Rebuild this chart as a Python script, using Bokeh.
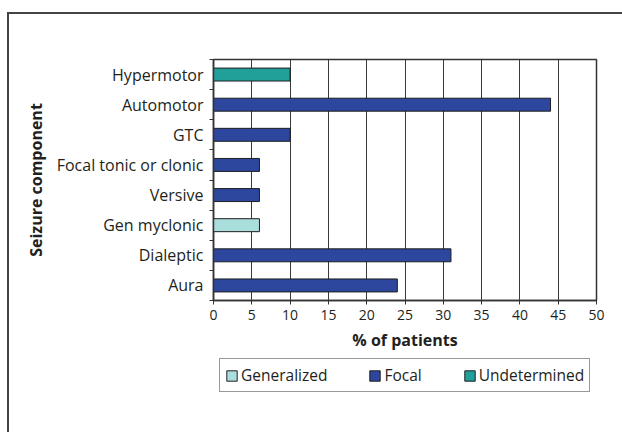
from bokeh.plotting import figure
from bokeh.layouts import column
from bokeh.models import (ColumnDataSource, FixedTicker, Range1d, Legend, LegendItem,
                          InlineStyleSheet)
from bokeh.embed import file_html
from bokeh.resources import INLINE

# ---- data (bottom to top) ----
components = ["Aura", "Dialeptic", "Gen myclonic", "Versive",
              "Focal tonic or clonic", "GTC", "Automotor", "Hypermotor"]
percent = [24, 31, 6, 6, 6, 10, 44, 10]
seizure_type = ["Focal", "Focal", "Generalized", "Focal",
                "Focal", "Focal", "Focal", "Undetermined"]
legend_order = ["Generalized", "Focal", "Undetermined"]
type_colors = {"Generalized": "#A9DEDD", "Focal": "#2C479D", "Undetermined": "#21A09A"}
x_ticks = [0, 5, 10, 15, 20, 25, 30, 35, 40, 45, 50]

FONT = "Open Sans"
TEXT = "#231F20"

pos = list(range(len(components)))
source = ColumnDataSource(dict(
    y=pos, value=percent, kind=seizure_type,
    color=[type_colors[t] for t in seizure_type],
))

p = figure(width=622, height=358, output_backend="svg", toolbar_location=None,
           x_range=Range1d(0, 50), y_range=Range1d(-0.5, len(components) - 0.5),
           min_border_left=213, min_border_right=26, min_border_top=59,
           min_border_bottom=58)

bar_kw = dict(y="y", right="value", left=0, height=0.43, source=source,
              fill_color="color", line_color="#1E1E1E", line_width=1)
r = p.hbar(**bar_kw)

# x axis
p.xaxis.ticker = FixedTicker(ticks=x_ticks)
p.xaxis.axis_label = "% of patients"
p.xaxis.axis_label_text_font = FONT
p.xaxis.axis_label_text_font_style = "bold"
p.xaxis.axis_label_text_font_size = "16px"
p.xaxis.axis_label_text_color = TEXT
p.xaxis.axis_label_standoff = 6
p.xaxis.major_label_text_font = FONT
p.xaxis.major_label_text_font_size = "14px"
p.xaxis.major_label_text_color = TEXT
p.xaxis.major_label_standoff = 5
p.xaxis.major_tick_in = 0
p.xaxis.major_tick_out = 4
p.xaxis.minor_tick_line_color = None
p.xaxis.axis_line_color = "#333333"
p.xaxis.axis_line_width = 1.5
p.xaxis.major_tick_line_color = "#333333"

# y axis: labels at centres, small ticks at category boundaries
p.yaxis.ticker = FixedTicker(ticks=pos,
                             minor_ticks=[i - 0.5 for i in range(len(components) + 1)])
p.yaxis.major_label_overrides = {i: c for i, c in enumerate(components)}
p.yaxis.axis_label = "Seizure component"
p.yaxis.axis_label_text_font = FONT
p.yaxis.axis_label_text_font_style = "bold"
p.yaxis.axis_label_text_font_size = "16px"
p.yaxis.axis_label_text_color = TEXT
p.yaxis.axis_label_standoff = 7
p.yaxis.major_label_text_font = FONT
p.yaxis.major_label_text_font_size = "16px"
p.yaxis.major_label_text_color = TEXT
p.yaxis.major_label_standoff = 6
p.yaxis.major_tick_line_color = None
p.yaxis.major_tick_in = 0
p.yaxis.major_tick_out = 0
p.yaxis.minor_tick_in = 0
p.yaxis.minor_tick_out = 4
p.yaxis.minor_tick_line_color = "#333333"
p.yaxis.axis_line_color = "#333333"
p.yaxis.axis_line_width = 1.5

# grid / frame
p.xgrid.ticker = FixedTicker(ticks=x_ticks)
p.xgrid.grid_line_color = "#3A3A3A"
p.xgrid.grid_line_width = 1
p.ygrid.grid_line_color = None
p.outline_line_color = "#333333"
p.outline_line_width = 1.5
p.background_fill_color = "white"
p.border_fill_color = "white"

# ---- legend strip (own small figure; its bar copy is hidden) ----
lg = figure(width=622, height=74, output_backend="svg", toolbar_location=None,
            x_range=Range1d(0, 50), y_range=Range1d(-0.5, len(components) - 0.5),
            min_border_left=213, min_border_right=26,
            min_border_top=0, min_border_bottom=0)
lg.axis.visible = False
lg.grid.visible = False
lg.outline_line_color = None
lg.background_fill_color = "white"
lg.border_fill_color = "white"
r2 = lg.hbar(**bar_kw)
r2.visible = False

items = [LegendItem(label=t, renderers=[r2], index=seizure_type.index(t)) for t in legend_order]
legend = Legend(items=items, orientation="horizontal", location=(6, 40),
                label_text_font=FONT, label_text_font_size="15.5px", label_text_color=TEXT,
                glyph_width=13, glyph_height=13, label_standoff=3, spacing=41,
                padding=5, margin=0, border_line_color="#333333", border_line_width=1.5,
                background_fill_alpha=1, label_height=16, inactive_fill_alpha=0)
lg.add_layout(legend, "center")

border_css = InlineStyleSheet(css="""
:host { position: relative; }
:host::after {
  content: ""; position: absolute; left: 7px; top: 12px; width: 615px; height: 420px;
  border-left: 2px solid #444444; border-top: 2px solid #444444;
  pointer-events: none; box-sizing: border-box;
}
""")

layout = column(p, lg, spacing=0, stylesheets=[border_css])

open("out.html", "w").write(file_html(layout, INLINE))
